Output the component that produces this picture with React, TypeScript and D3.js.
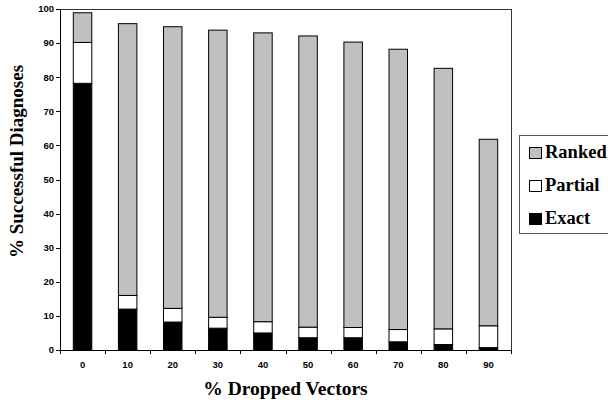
import React from "react";
import * as d3 from "d3";

const categories = ["0", "10", "20", "30", "40", "50", "60", "70", "80", "90"];
const exactValues = [78.2, 12.0, 8.2, 6.4, 5.0, 3.6, 3.6, 2.4, 1.6, 0.7];
const partialValues = [12.0, 4.0, 4.0, 3.2, 3.3, 3.1, 3.0, 3.6, 4.6, 6.4];
const rankedValues = [8.7, 79.7, 82.6, 84.2, 84.7, 85.4, 83.7, 82.2, 76.4, 54.7];
const yTicks = [0, 10, 20, 30, 40, 50, 60, 70, 80, 90, 100];
const seriesNames = ["Exact", "Partial", "Ranked"];
const seriesColors: Record<string, string> = { Exact: "#000000", Partial: "#ffffff", Ranked: "#c0c0c0" };

const W = 608, H = 402;
const M = { left: 60, right: 97, top: 9, bottom: 52 };

export default function App() {
  const rows = categories.map((c, i) => ({
    cat: c,
    Exact: exactValues[i],
    Partial: partialValues[i],
    Ranked: rankedValues[i],
  }));
  const x = d3.scaleBand().domain(categories).range([M.left, W - M.right]).paddingInner(0.59).paddingOuter(0.295);
  const y = d3.scaleLinear().domain([0, 100]).range([H - M.bottom, M.top]);
  const stack = d3.stack<any>().keys(seriesNames)(rows as any);
  const x0 = M.left, x1 = W - M.right, y0 = H - M.bottom, y1 = M.top;
  const boundaries = d3.range(categories.length + 1).map((i) => x0 + i * ((x1 - x0) / categories.length));
  const legendItems = ["Ranked", "Partial", "Exact"];
  const sans = { fontFamily: '"Liberation Sans", Arial, sans-serif', fontWeight: "bold" as const, fontSize: 9.5 };
  const serif = { fontFamily: '"Liberation Serif", "Times New Roman", serif', fontWeight: "bold" as const };
  return (
    <svg width={W} height={H} style={{ position: "absolute", left: 0, top: 0, background: "#fff" }}>
      <rect x={0} y={0} width={W} height={H} fill="#fff" />
      {/* frame top/right */}
      <line x1={x0} y1={y1 + 0.5} x2={x1 + 0.5} y2={y1 + 0.5} stroke="#333" strokeWidth={1} />
      <line x1={x1 + 0.5} y1={y1} x2={x1 + 0.5} y2={y0} stroke="#333" strokeWidth={1} />
      {/* bars */}
      {stack.map((s) => (
        <g key={s.key}>
          {s.map((d, i) => (
            <rect
              key={i}
              x={x(categories[i])!}
              y={y(d[1])}
              width={x.bandwidth()}
              height={y(d[0]) - y(d[1])}
              fill={seriesColors[s.key]}
              stroke="#000"
              strokeWidth={1}
            />
          ))}
        </g>
      ))}
      {/* y axis */}
      <line x1={x0 + 0.5} y1={y1} x2={x0 + 0.5} y2={y0} stroke="#000" strokeWidth={1} />
      {yTicks.map((t) => (
        <g key={t}>
          <line x1={x0 - 4} x2={x0} y1={Math.round(y(t)) + 0.5} y2={Math.round(y(t)) + 0.5} stroke="#000" />
          <text x={x0 - 6} y={y(t)} dy="0.35em" textAnchor="end" style={sans}>
            {t}
          </text>
        </g>
      ))}
      {/* x axis */}
      <line x1={x0} y1={y0 + 0.5} x2={x1} y2={y0 + 0.5} stroke="#000" strokeWidth={1} />
      {boundaries.map((b, i) => (
        <line key={i} x1={Math.round(b) + 0.5} x2={Math.round(b) + 0.5} y1={y0} y2={y0 + 4} stroke="#000" />
      ))}
      {categories.map((c) => (
        <text key={c} x={x(c)! + x.bandwidth() / 2} y={y0 + 18} textAnchor="middle" style={sans}>
          {c}
        </text>
      ))}
      {/* titles */}
      <text x={(x0 + x1) / 2} y={395} textAnchor="middle" style={{ ...serif, fontSize: 19.5 }}>
        % Dropped Vectors
      </text>
      <text
        transform={`translate(23, ${(y0 + y1) / 2 - 18}) rotate(-90)`}
        textAnchor="middle"
        style={{ ...serif, fontSize: 19 }}
      >
        % Successful Diagnoses
      </text>
      {/* legend */}
      <rect x={519.5} y={135.5} width={100} height={98} fill="#fff" stroke="#555" strokeWidth={1} />
      {legendItems.map((k, i) => (
        <g key={k} transform={`translate(529, ${147 + i * 33})`}>
          <rect x={0.5} y={0.5} width={12} height={11} fill={seriesColors[k]} stroke="#000" strokeWidth={1} />
          <text x={16} y={11} style={{ ...serif, fontSize: 18.5 }}>
            {k}
          </text>
        </g>
      ))}
    </svg>
  );
}
